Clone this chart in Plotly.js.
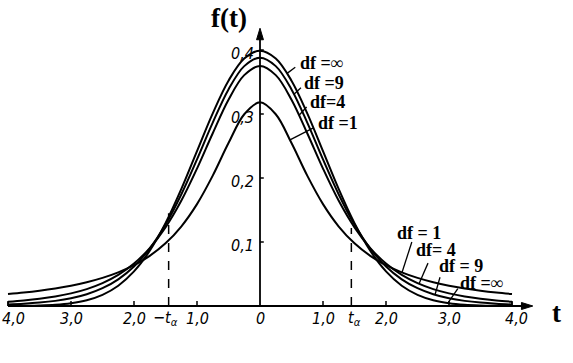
<!DOCTYPE html>
<html>
<head>
<meta charset="utf-8">
<script src="https://cdn.plot.ly/plotly-3.0.1.min.js"></script>
<style>html,body{margin:0;padding:0;background:#fff;}#chart{width:573px;height:363px;}</style>
</head>
<body>
<div id="chart"></div>
<script>
// t values
var tValues = [-4,-3.75,-3.5,-3.25,-3,-2.75,-2.5,-2.25,-2,-1.75,-1.5,-1.25,-1,-0.75,-0.5,-0.25,0,0.25,0.5,0.75,1,1.25,1.5,1.75,2,2.25,2.5,2.75,3,3.25,3.5,3.75,4];
// density values
var dfInf = [0.0001,0.0004,0.0009,0.0020,0.0044,0.0091,0.0175,0.0317,0.0540,0.0863,0.1295,0.1826,0.2420,0.3011,0.3521,0.3867,0.3989,0.3867,0.3521,0.3011,0.2420,0.1826,0.1295,0.0863,0.0540,0.0317,0.0175,0.0091,0.0044,0.0020,0.0009,0.0004,0.0001];
var df9 = [0.0023,0.0035,0.0053,0.0080,0.0121,0.0184,0.0278,0.0417,0.0617,0.0897,0.1272,0.1743,0.2291,0.2866,0.3384,0.3748,0.3880,0.3748,0.3384,0.2866,0.2291,0.1743,0.1272,0.0897,0.0617,0.0417,0.0278,0.0184,0.0121,0.0080,0.0053,0.0035,0.0023];
var df4 = [0.0067,0.0087,0.0113,0.0148,0.0197,0.0264,0.0357,0.0485,0.0663,0.0905,0.1229,0.1644,0.2147,0.2699,0.3223,0.3607,0.3750,0.3607,0.3223,0.2699,0.2147,0.1644,0.1229,0.0905,0.0663,0.0485,0.0357,0.0264,0.0197,0.0148,0.0113,0.0087,0.0067];
var df1 = [0.0187,0.0211,0.0240,0.0275,0.0318,0.0372,0.0439,0.0525,0.0637,0.0784,0.0979,0.1242,0.1592,0.2037,0.2546,0.2996,0.3183,0.2996,0.2546,0.2037,0.1592,0.1242,0.0979,0.0784,0.0637,0.0525,0.0439,0.0372,0.0318,0.0275,0.0240,0.0211,0.0187];

// tick labels
var xTickVals = [-4,-3,-2,-1,0,1,2,3,4];
var xTickText = ["4,0","3,0","2,0","1,0","0","1,0","2,0","3,0","4,0"];
var yTickVals = [0.1,0.2,0.3,0.4];
var yTickText = ["0,1","0,2","0,3","0,4"];
var tAlpha = 1.45;

// curve labels
var topLabels = ["df =∞","df =9","df=4","df =1"];
var rightLabels = ["df = 1","df= 4","df = 9","df =∞"];

var lineStyle = {color:'#000', width:2, shape:'spline', smoothing:1};
var series = [dfInf, df9, df4, df1];
var traces = series.map(function(s){
  return {x:tValues, y:s, type:'scatter', mode:'lines', line:lineStyle, hoverinfo:'skip'};
});

var tickFont = {family:'"Liberation Sans Narrow","DejaVu Sans Condensed","Liberation Sans",sans-serif', size:16, color:'#000'};
var labelFont = {family:'"Liberation Serif","DejaVu Serif",serif', size:18, color:'#000'};
var bigFont = {family:'"Liberation Serif","DejaVu Serif",serif', size:27, color:'#000'};

var shapes = [];
var annotations = [];

// axes with arrowheads (filled narrow triangles)
var xTip = 4.33, yTip = 0.434;
shapes.push({type:'line', xref:'x', yref:'y', x0:-4.0, x1:xTip-0.1, y0:0, y1:0, line:{color:'#000', width:1.8}});
shapes.push({type:'line', xref:'x', yref:'y', x0:0, x1:0, y0:0, y1:yTip-0.01, line:{color:'#000', width:1.8}});
shapes.push({type:'path', xref:'x', yref:'y', path:'M '+xTip+',0 L '+(xTip-0.18)+',0.0055 L '+(xTip-0.18)+',-0.0055 Z', fillcolor:'#000', line:{color:'#000', width:1}});
shapes.push({type:'path', xref:'x', yref:'y', path:'M 0,'+yTip+' L 0.055,'+(yTip-0.018)+' L -0.055,'+(yTip-0.018)+' Z', fillcolor:'#000', line:{color:'#000', width:1}});

// x ticks
xTickVals.forEach(function(v, i){
  if (v !== 0) shapes.push({type:'line', xref:'x', yref:'y', x0:v, x1:v, y0:0, y1:0.008, line:{color:'#000', width:1.5}});
  var shift = (v === -4) ? 5 : (v === 4 ? 4 : 0);
  annotations.push({x:v, y:-0.0203, xref:'x', yref:'y', xshift:shift, text:'<i>'+xTickText[i]+'</i>', showarrow:false, font:tickFont, xanchor:'center', yanchor:'middle'});
});
// y ticks
yTickVals.forEach(function(v, i){
  shapes.push({type:'line', xref:'x', yref:'y', x0:0, x1:0.06, y0:v, y1:v, line:{color:'#000', width:1.5}});
  annotations.push({x:-0.06, y:v, xref:'x', yref:'y', yshift:-3, text:'<i>'+yTickText[i]+'</i>', showarrow:false, font:tickFont, xanchor:'right', yanchor:'middle'});
});

// t alpha labels and dashed lines
annotations.push({x:-tAlpha-0.05, y:-0.0203, xref:'x', yref:'y', text:'<i>−t<sub>α</sub></i>', showarrow:false, font:tickFont, xanchor:'center', yanchor:'middle'});
annotations.push({x:tAlpha+0.05, y:-0.0203, xref:'x', yref:'y', text:'<i>t<sub>α</sub></i>', showarrow:false, font:tickFont, xanchor:'center', yanchor:'middle'});
shapes.push({type:'line', xref:'x', yref:'y', x0:-tAlpha, x1:-tAlpha, y0:0, y1:0.145, line:{color:'#000', width:1.5, dash:'dash'}});
shapes.push({type:'line', xref:'x', yref:'y', x0:tAlpha, x1:tAlpha, y0:0, y1:0.122, line:{color:'#000', width:1.5, dash:'dash'}});

// end closures of tails
[-4, 4].forEach(function(v){
  shapes.push({type:'line', xref:'x', yref:'y', x0:v, x1:v, y0:0, y1:0.0067, line:{color:'#000', width:1.5}});
});

// leader lines
var leaders = [
  [0.43,0.3635,0.56,0.373],
  [0.54,0.331,0.65,0.341],
  [0.62,0.298,0.74,0.311],
  [0.476,0.2595,0.84,0.278],
  [2.254,0.0523,2.41,0.100],
  [2.524,0.0347,2.667,0.067],
  [2.778,0.0176,2.857,0.045],
  [2.984,0.0047,3.14,0.027]
];
leaders.forEach(function(l){
  shapes.push({type:'line', xref:'x', yref:'y', x0:l[0], y0:l[1], x1:l[2], y1:l[3], line:{color:'#000', width:1.3}});
});

var topPos = [[0.603,0.380],[0.667,0.348],[0.762,0.319],[0.889,0.286]];
topLabels.forEach(function(s, i){
  annotations.push({x:topPos[i][0], y:topPos[i][1], xref:'x', yref:'y', text:'<b>'+s+'</b>', showarrow:false, font:labelFont, xanchor:'left', yanchor:'middle'});
});
var rightPos = [[2.143,0.114],[2.444,0.0875],[2.81,0.0625],[3.143,0.036]];
rightLabels.forEach(function(s, i){
  annotations.push({x:rightPos[i][0], y:rightPos[i][1], xref:'x', yref:'y', text:'<b>'+s+'</b>', showarrow:false, font:labelFont, xanchor:'left', yanchor:'middle'});
});

// axis titles
annotations.push({x:-0.50, y:0.45, xref:'x', yref:'y', text:'<b>f(t)</b>', showarrow:false, font:bigFont, xanchor:'center', yanchor:'middle'});
annotations.push({x:4.70, y:-0.011, xref:'x', yref:'y', text:'<b>t</b>', showarrow:false, font:bigFont, xanchor:'center', yanchor:'middle'});

var layout = {
  width:573, height:363,
  margin:{l:0, r:0, t:0, b:0, pad:0},
  paper_bgcolor:'#fff', plot_bgcolor:'#fff',
  showlegend:false, hovermode:false,
  xaxis:{range:[-260/63, 313/63], visible:false, fixedrange:true},
  yaxis:{range:[-57/640, 306/640], visible:false, fixedrange:true},
  shapes:shapes,
  annotations:annotations
};
Plotly.newPlot('chart', traces, layout, {staticPlot:true, displayModeBar:false});
</script>
</body>
</html>
